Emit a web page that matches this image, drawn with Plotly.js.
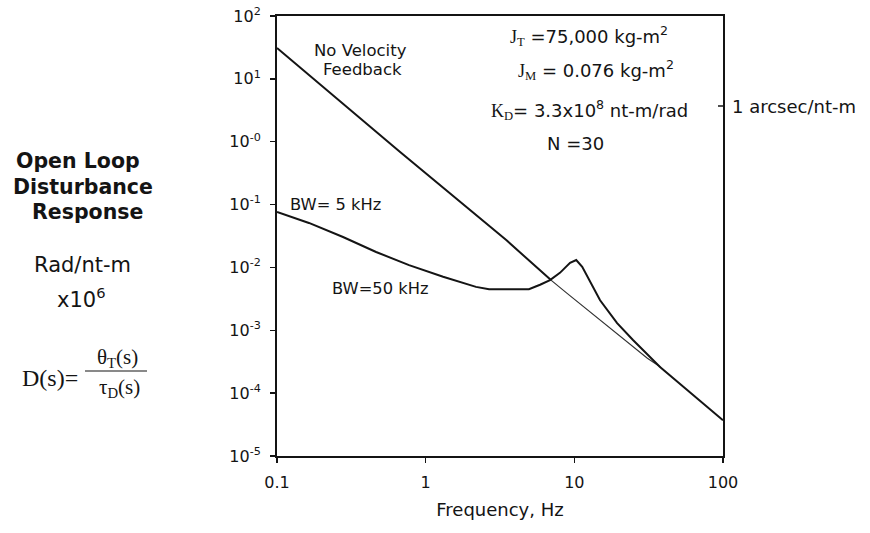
<!DOCTYPE html>
<html>
<head>
<meta charset="utf-8">
<script src="https://cdn.plot.ly/plotly-3.0.1.min.js"></script>
<style>
  html, body { margin: 0; padding: 0; background: #ffffff; }
  #chart { width: 870px; height: 533px; }
</style>
</head>
<body>
<div id="chart"></div>
<script>
// ---- Data (frequency in Hz, response in rad/nt-m x1e6) ----
const noFbFreq      = [0.1, 0.67, 3.5, 6.9];
const noFbValue     = [31, 0.69, 0.027, 0.0064];
const noFbFaintFreq = [6.9, 8.9, 31, 38];
const noFbFaintVal  = [0.0064, 0.0039, 0.00036, 0.00026];

const bwFreq  = [0.1, 0.164, 0.278, 0.464, 0.773, 1.31, 2.18, 2.67, 3.6, 4.95, 5.88, 6.86, 8.0, 9.36, 10.3, 11.3, 14.9, 19.4, 24.8, 37.7, 100];
const bwValue = [0.076, 0.051, 0.0305, 0.0176, 0.0109, 0.0071, 0.0049, 0.0045, 0.0045, 0.0045, 0.0053, 0.0063, 0.0082, 0.0118, 0.0131, 0.0102, 0.0030, 0.0013, 0.0007, 0.00026, 0.000037];

const xTickVals = [0.1, 1, 10, 100];
const xTickText = ['0.1', '1', '10', '100'];
const yTickVals = [1e2, 1e1, 1e0, 1e-1, 1e-2, 1e-3, 1e-4, 1e-5];
const yTickText = ['10<sup>2</sup>', '10<sup>1</sup>', '10<sup>-0</sup>', '10<sup>-1</sup>',
                   '10<sup>-2</sup>', '10<sup>-3</sup>', '10<sup>-4</sup>', '10<sup>-5</sup>'];

// ---- layout helpers (pixel -> paper) ----
const W = 870, H = 533;
const M = { l: 277, r: 147, t: 16, b: 77 };
const PW = W - M.l - M.r, PH = H - M.t - M.b;
const px = p => (p - M.l) / PW;
const py = p => (H - M.b - p) / PH;

const INK = '#141414';
const SANS = 'DejaVu Sans, Liberation Sans, Arial, sans-serif';
const SERIF = 'Liberation Serif';

function ann(text, x, y, size, opts) {
  return Object.assign({
    text: text, xref: 'paper', yref: 'paper', x: px(x), y: py(y),
    xanchor: 'center', yanchor: 'middle', showarrow: false,
    font: { family: SANS, size: size, color: INK }
  }, opts || {});
}
const ser = t => '<span style="font-family:' + SERIF + '">' + t + '</span>';

const traces = [
  { x: noFbFreq, y: noFbValue, type: 'scatter', mode: 'lines', name: 'No Velocity Feedback',
    line: { color: INK, width: 2 }, hoverinfo: 'skip' },
  { x: noFbFaintFreq, y: noFbFaintVal, type: 'scatter', mode: 'lines', name: 'No Velocity Feedback (cont.)',
    line: { color: '#333333', width: 1.2 }, hoverinfo: 'skip' },
  { x: bwFreq, y: bwValue, type: 'scatter', mode: 'lines', name: 'BW 5 / 50 kHz',
    line: { color: INK, width: 2 }, hoverinfo: 'skip' }
];

const layout = {
  width: W, height: H,
  margin: M,
  paper_bgcolor: '#ffffff', plot_bgcolor: '#ffffff',
  showlegend: false,
  font: { family: SANS, size: 16, color: INK },
  xaxis: {
    type: 'log', range: [-1, 2],
    tickmode: 'array', tickvals: xTickVals, ticktext: xTickText,
    ticks: 'outside', ticklen: 5, tickwidth: 1.5, tickcolor: INK,
    showline: true, linewidth: 2, linecolor: INK, mirror: true,
    showgrid: false, zeroline: false,
    tickfont: { family: SANS, size: 16, color: INK },
    ticklabelstandoff: 6,
    title: { text: 'Frequency, Hz', font: { family: SANS, size: 18, color: INK }, standoff: 12 }
  },
  yaxis: {
    type: 'log', range: [-5, 2],
    tickmode: 'array', tickvals: yTickVals, ticktext: yTickText,
    ticks: 'outside', ticklen: 5, tickwidth: 1.5, tickcolor: INK,
    showline: true, linewidth: 2, linecolor: INK, mirror: true,
    showgrid: false, zeroline: false,
    tickfont: { family: SANS, size: 16, color: INK },
    ticklabelstandoff: 6
  },
  annotations: [
    ann('<b>Open Loop</b>', 78, 161, 20.5),
    ann('<b>Disturbance</b>', 83, 187, 20.5),
    ann('<b>Response</b>', 87, 212, 20.5),
    ann('Rad/nt-m', 82, 265, 21),
    ann('x10<sup>6</sup>', 81, 298, 21),
    ann('D(s)=', 50, 378, 24, { font: { family: SERIF, size: 24, color: INK } }),
    ann('θ<sub>T</sub>(s)', 117, 358, 21, { font: { family: SERIF, size: 21, color: INK } }),
    ann('τ<sub>D</sub>(s)', 119, 388, 21, { font: { family: SERIF, size: 21, color: INK } }),

    ann('No Velocity', 360, 50, 16.5),
    ann('Feedback', 362, 70, 16.5),
    ann('BW= 5 kHz', 335, 204, 16.3),
    ann('BW=50 kHz', 380, 288, 16.3),

    ann(ser('J') + '<sub>' + ser('T') + '</sub> =75,000 kg-m<sup>2</sup>', 589, 36, 18),
    ann(ser('J') + '<sub>' + ser('M') + '</sub> = 0.076 kg-m<sup>2</sup>', 596, 70, 18),
    ann(ser('K') + '<sub>' + ser('D') + '</sub>= 3.3x10<sup>8</sup> nt-m/rad', 589, 110, 18),
    ann('N =30', 575, 143, 18),
    ann('1 arcsec/nt-m', 730, 107, 18, { xanchor: 'left' })
  ],
  shapes: [
    { type: 'line', xref: 'paper', yref: 'paper', x0: px(85), x1: px(147), y0: py(371), y1: py(371),
      line: { color: INK, width: 1.2 } },
    { type: 'line', xref: 'paper', yref: 'paper', x0: px(718), x1: px(723), y0: py(106), y1: py(106),
      line: { color: INK, width: 1.5 } }
  ]
};

Plotly.newPlot('chart', traces, layout, { staticPlot: true, displayModeBar: false });
</script>
</body>
</html>
